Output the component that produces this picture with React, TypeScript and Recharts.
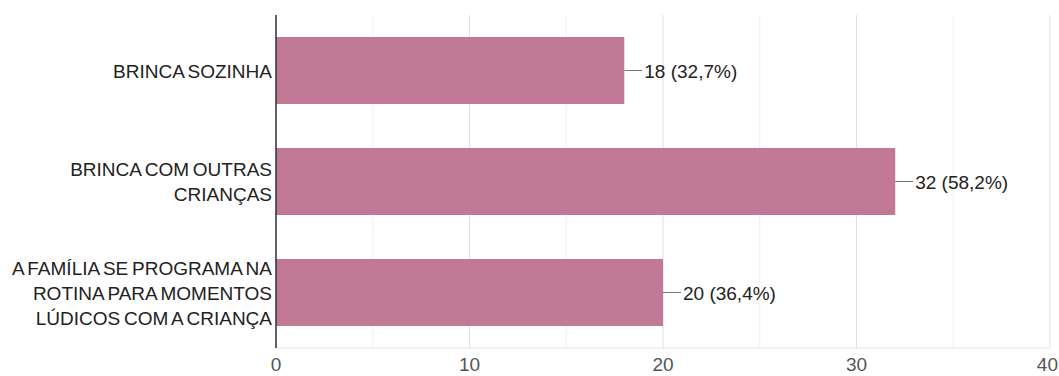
import { Bar, BarChart, CartesianGrid, LabelList, XAxis, YAxis } from "recharts";

const categories = [
	"BRINCA SOZINHA",
	"BRINCA COM OUTRAS\nCRIANÇAS",
	"A FAMÍLIA SE PROGRAMA NA\nROTINA PARA MOMENTOS\nLÚDICOS COM A CRIANÇA",
];
const counts = [18, 32, 20];
const percents = ["32,7%", "58,2%", "36,4%"];
const xLabels = [0, 10, 20, 30, 40];
const gridTicks = [0, 5, 10, 15, 20, 25, 30, 35, 40];

const data = categories.map((name, i) => ({
	name,
	value: counts[i],
	pct: percents[i],
}));

const FONT = "'Liberation Sans', Arial, sans-serif";

function CategoryTick({ x, y, payload }: any) {
	const lines = String(payload.value).split("\n");
	const start = -((lines.length - 1) / 2) * 25;
	return (
		<text
			x={x}
			y={y}
			textAnchor='end'
			fill='#222'
			fontSize={19}
			fontFamily={FONT}
			wordSpacing={-1.5}
		>
			{lines.map((line, i) => (
				<tspan key={i} x={x} dy={i === 0 ? start + 7 : 25}>
					{line}
				</tspan>
			))}
		</text>
	);
}

function ValueTick({ x, y, payload }: any) {
	if (!xLabels.includes(payload.value)) return <g />;
	// last label sits on the right edge, keep it inside the frame
	const last = payload.value === xLabels[xLabels.length - 1];
	return (
		<text
			x={last ? x + 8 : x}
			y={y + 23}
			textAnchor={last ? "end" : "middle"}
			fill='#555'
			fontSize={19}
			fontFamily={FONT}
		>
			{payload.value}
		</text>
	);
}

function GridLine(p: any) {
	const minor = typeof p.index === "number" && p.index % 2 === 1;
	return (
		<line
			key={p.key}
			x1={p.x1}
			y1={p.y1}
			x2={p.x2}
			y2={p.y2}
			stroke={minor ? "#efefef" : "#e0e0e0"}
			strokeWidth={1}
		/>
	);
}

function ValueLabel({ x, y, width, height, index }: any) {
	const end = x + width;
	const mid = y + height / 2;
	return (
		<g>
			<line x1={end} y1={mid} x2={end + 18} y2={mid} stroke='#777' strokeWidth={1} />
			<text x={end + 20} y={mid + 7} fill='#222' fontSize={19} fontFamily={FONT}>
				{`${counts[index]} (${percents[index]})`}
			</text>
		</g>
	);
}

export default function App() {
	return (
		<div style={{ position: "absolute", left: 0, top: 0, background: "#fff" }}>
			<BarChart
				width={1059}
				height={376}
				data={data}
				layout='vertical'
				margin={{ top: 15, right: 9, bottom: 0, left: 0 }}
				barCategoryGap={22}
			>
				<CartesianGrid horizontal={false} vertical={GridLine} />
				<XAxis
					type='number'
					domain={[0, 40]}
					ticks={gridTicks}
					interval={0}
					tick={<ValueTick />}
					tickLine={false}
					tickSize={0}
					tickMargin={0}
					axisLine={{ stroke: "#e6e6e6" }}
					height={28}
				/>
				<XAxis
					xAxisId='top'
					orientation='top'
					type='number'
					domain={[0, 40]}
					tick={false}
					tickLine={false}
					axisLine={{ stroke: "#e6e6e6" }}
					height={0}
				/>
				<YAxis
					type='category'
					dataKey='name'
					width={276}
					tick={<CategoryTick />}
					tickLine={false}
					tickSize={0}
					tickMargin={4}
					axisLine={{ stroke: "#333", strokeWidth: 1.5 }}
				/>
				<Bar dataKey='value' fill='#c27995' isAnimationActive={false}>
					<LabelList dataKey='value' content={<ValueLabel />} />
				</Bar>
			</BarChart>
		</div>
	);
}
